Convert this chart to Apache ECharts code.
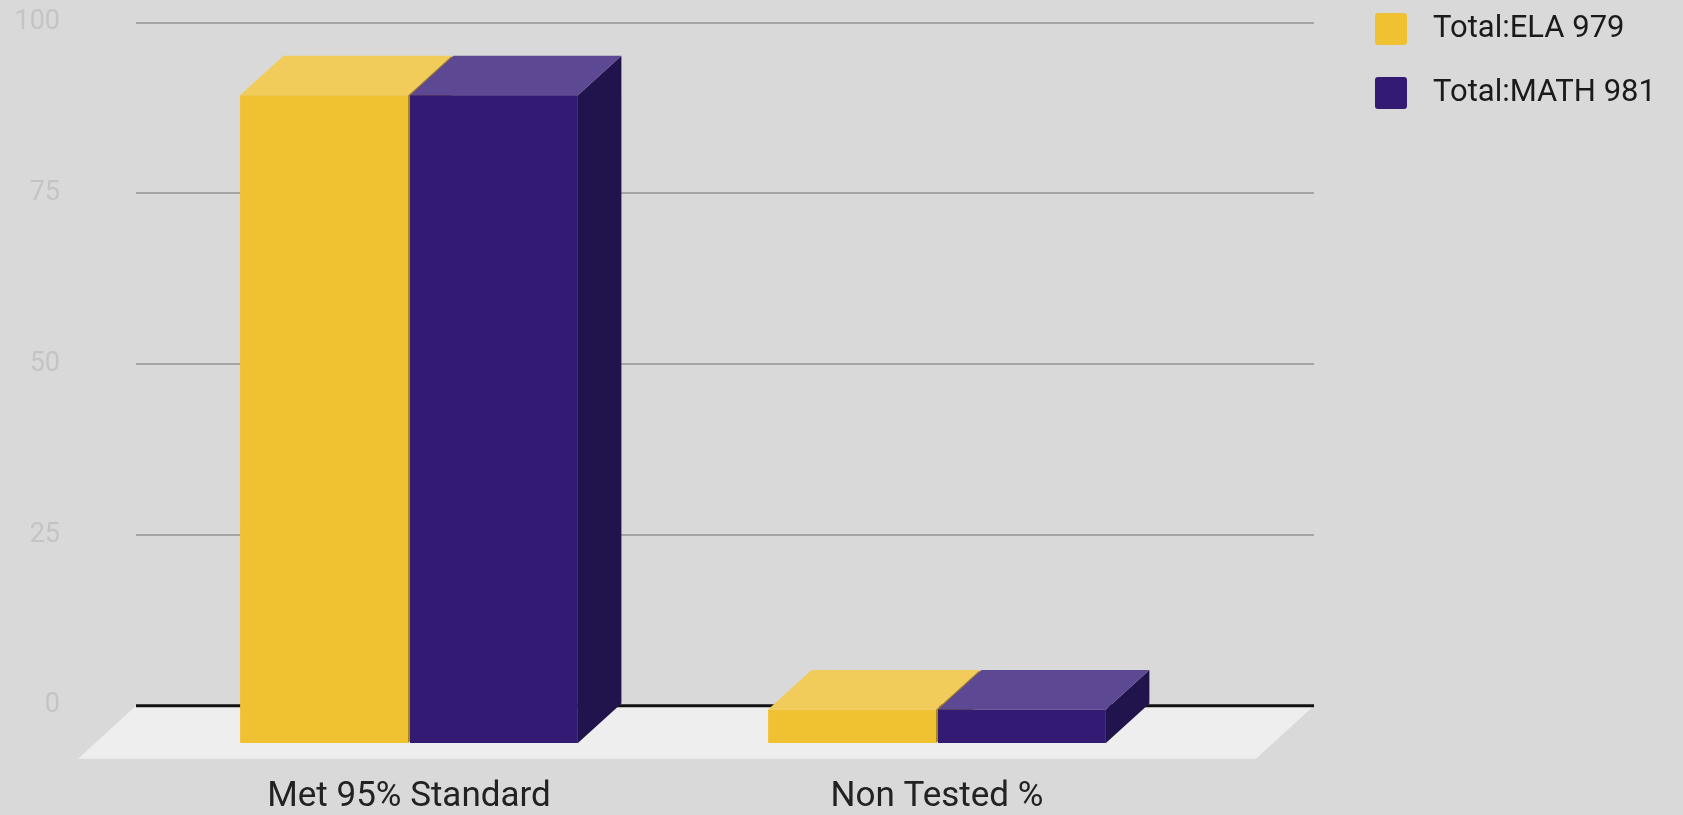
<!DOCTYPE html>
<html>
<head>
<meta charset="utf-8">
<script src="https://cdn.jsdelivr.net/npm/echarts@6/dist/echarts.min.js"></script>
<style>
html,body{margin:0;padding:0;background:#d9d9d9;}
#chart{width:1683px;height:815px;}
</style>
</head>
<body>
<div id="chart"></div>
<script>
// ---- data ----
const categories = ['Met 95% Standard', 'Non Tested %'];
const seriesNames = ['Total:ELA 979', 'Total:MATH 981'];
const elaValues = [95.1, 4.9];
const mathValues = [95.1, 4.9];
const yTicks = [0, 25, 50, 75, 100];

// ---- styles ----
const DX = 43.5, DY = 39.5;      // bar depth offset
const FDX = 58, FDY = 53;        // floor depth offset
const FONT = 'Roboto';
const ICON = 'path://M3,0 L29,0 Q32,0 32,3 L32,29 Q32,32 29,32 L3,32 Q0,32 0,29 L0,3 Q0,0 3,0 Z';

function makeBarRender(sign, front, topC, sideC) {
  return function (params, api) {
    const cat = api.value(0);
    const v = api.value(1);
    const base = api.coord([cat, 0]);
    const top = api.coord([cat, v]);
    const band = api.size([1, 0])[0];
    const w = band * 0.318;
    const gap = 1;
    const x0 = sign < 0 ? base[0] - gap - w : base[0] + gap;
    const x1 = x0 + w;
    const ty = top[1], by = base[1];
    return {
      type: 'group',
      children: [
        { type: 'polygon', shape: { points: [[x1, ty], [x1 + DX, ty - DY], [x1 + DX, by - DY], [x1, by]] }, style: { fill: sideC } },
        { type: 'polygon', shape: { points: [[x0, ty], [x1, ty], [x1 + DX, ty - DY], [x0 + DX, ty - DY]] }, style: { fill: topC } },
        { type: 'rect', shape: { x: x0, y: ty, width: w, height: by - ty }, style: { fill: front } }
      ]
    };
  };
}

function renderFloor(params, api) {
  const cs = params.coordSys;
  const y0 = api.coord([0, 0])[1];
  const xl = cs.x, xr = cs.x + cs.width;
  return {
    type: 'group',
    children: [
      { type: 'polygon', shape: { points: [[xl, y0], [xr, y0], [xr - FDX, y0 + FDY], [xl - FDX, y0 + FDY]] }, style: { fill: '#eeeeee' } },
      { type: 'line', shape: { x1: xl, y1: y0, x2: xr, y2: y0 }, style: { stroke: '#111111', lineWidth: 3 } }
    ]
  };
}

const chart = echarts.init(document.getElementById('chart'));
chart.setOption({
  animation: false,
  backgroundColor: '#d9d9d9',
  textStyle: { fontFamily: FONT },
  legend: {
    orient: 'vertical',
    left: 1370,
    top: 8,
    itemWidth: 34,
    itemHeight: 32,
    itemGap: 32,
    icon: ICON,
    data: seriesNames,
    textStyle: { fontFamily: FONT, fontSize: 31, color: '#1a1a1a', padding: [0, 0, 0, 20] }
  },
  grid: [
    { left: 136, right: 369, top: 22.3, bottom: 109.3 },
    { left: 145, right: 482, top: 61.8, bottom: 69.8 }
  ],
  xAxis: [
    { gridIndex: 0, type: 'category', data: categories, show: false },
    {
      gridIndex: 1, type: 'category', data: categories,
      axisLine: { show: false }, axisTick: { show: false },
      axisLabel: { margin: 37, fontSize: 35, color: '#222222', fontFamily: FONT }
    }
  ],
  yAxis: [
    {
      gridIndex: 0, type: 'value', min: yTicks[0], max: yTicks[yTicks.length - 1], interval: 25,
      axisLine: { show: false }, axisTick: { show: false },
      axisLabel: { margin: 76, fontSize: 27, color: '#c4c4c4', fontFamily: FONT },
      splitLine: { lineStyle: { color: '#a5a5a5', width: 2 } }
    },
    {
      gridIndex: 1, type: 'value', min: yTicks[0], max: yTicks[yTicks.length - 1], interval: 25,
      show: false, splitLine: { show: false }
    }
  ],
  series: [
    {
      type: 'custom', name: 'floor', xAxisIndex: 0, yAxisIndex: 0, z: 1,
      renderItem: renderFloor, data: [[0, 0]], silent: true
    },
    {
      type: 'custom', name: seriesNames[0], xAxisIndex: 1, yAxisIndex: 1, z: 3,
      itemStyle: { color: '#f0c131' },
      renderItem: makeBarRender(-1, '#f0c131', '#f2cc5a', '#a8851d'),
      data: elaValues.map((v, i) => [i, v])
    },
    {
      type: 'custom', name: seriesNames[1], xAxisIndex: 1, yAxisIndex: 1, z: 4,
      itemStyle: { color: '#331b73' },
      renderItem: makeBarRender(1, '#331b73', '#5d4893', '#21134b'),
      data: mathValues.map((v, i) => [i, v])
    }
  ]
});
</script>
</body>
</html>
